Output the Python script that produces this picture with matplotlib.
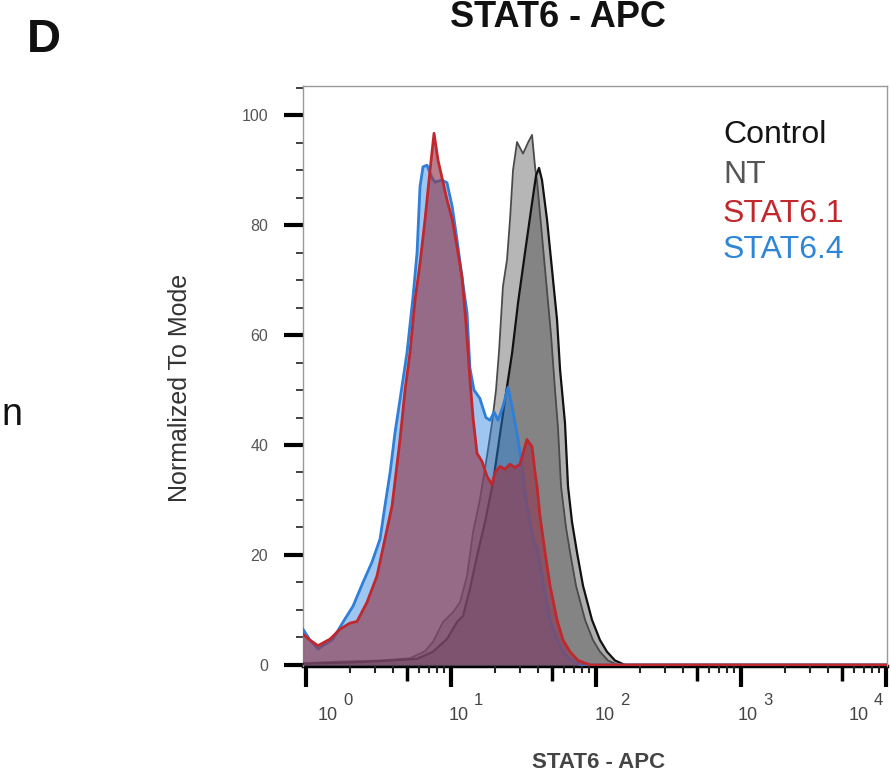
import numpy as np
import matplotlib
matplotlib.use("Agg")
import matplotlib.pyplot as plt
from matplotlib.ticker import FixedLocator, NullLocator, LogLocator, NullFormatter
from matplotlib.transforms import offset_copy

plt.rcParams['font.family'] = ['Liberation Sans', 'DejaVu Sans']

# ---------------- data (intensity, % of mode) ----------------
stat61_x = [0.953, 1.066, 1.21, 1.464, 1.716, 2.011, 2.247, 2.634, 3.088, 3.50,
            3.919, 4.45, 4.818, 5.215, 5.646, 6.11, 6.617, 7.166, 7.635, 8.135,
            8.67, 9.38, 10.2, 11.0, 11.9, 12.69, 13.5, 14.18, 15.11, 16.36,
            17.71, 19.18, 20.11, 21.77, 23.57, 25.52, 27.63, 29.92, 33.4, 36.2,
            37.97, 39.19, 41.1, 44.5, 48.2, 53.83, 59.2, 66.2, 75.1, 90.9, 10200]
stat61_y = [5.6, 4.5, 3.5, 4.7, 6.5, 7.6, 7.9, 11.4, 16.2, 22.9,
            28.9, 41.0, 50.0, 56.8, 66.4, 73.0, 81.0, 90.0, 96.7, 91.8,
            88.6, 84.6, 81.0, 76.0, 70.6, 62.0, 52.0, 45.0, 38.5, 37.0,
            34.3, 32.8, 35.0, 36.1, 35.6, 36.5, 35.9, 36.5, 41.0, 39.7,
            35.0, 32.5, 27.0, 20.5, 14.4, 8.2, 4.5, 2.4, 0.8, 0.0, 0.0]

stat64_x = [0.953, 1.066, 1.21, 1.535, 1.80, 2.11, 2.47, 2.85, 3.24, 3.50,
            3.80, 4.11, 4.45, 4.97, 5.47, 5.83, 6.11, 6.41, 6.83, 7.39,
            7.76, 8.67, 9.38, 10.2, 11.0, 11.9, 12.9, 13.5, 14.4, 15.8,
            17.4, 18.6, 19.8, 21.1, 22.8, 24.7, 26.4, 29.0, 30.9, 33.4,
            36.8, 39.81, 43.8, 48.2, 53.0, 59.2, 66.2, 77.6, 10200]
stat64_y = [6.5, 4.5, 2.9, 4.7, 7.8, 10.7, 15.0, 18.7, 22.9, 28.9,
            35.0, 42.3, 48.3, 56.8, 67.0, 75.0, 87.0, 90.6, 90.9, 88.6,
            87.8, 88.2, 87.7, 83.3, 77.3, 70.6, 64.0, 54.0, 50.0, 48.5,
            45.0, 44.5, 46.0, 44.5, 47.0, 50.5, 47.0, 41.0, 36.0, 29.0,
            23.0, 20.5, 14.0, 8.2, 5.0, 2.4, 1.0, 0.0, 0.0]

nt_x = [0.953, 1.716, 3.24, 5.215, 6.617, 7.514, 8.806, 10.32, 11.54, 12.9,
        14.18, 15.8, 17.71, 19.18, 20.43, 21.43, 22.8, 24.33, 25.52, 26.77,
        28.52, 31.37, 33.96, 36.2, 37.97, 39.19, 41.75, 45.2, 48.95, 52.15,
        54.7, 57.35, 62.1, 66.2, 72.8, 84.0, 95.35, 106.6, 121, 141.8, 10200]
nt_y = [0.3, 0.6, 0.8, 1.2, 2.5, 4.2, 7.8, 9.6, 11.4, 16.2,
        24.1, 30.0, 38.0, 44.0, 50.0, 57.0, 68.8, 73.7, 81.0, 90.0,
        95.1, 93.0, 95.0, 96.4, 90.6, 88.0, 80.0, 70.0, 60.0, 50.0,
        43.0, 32.5, 25.0, 20.5, 14.4, 8.2, 4.5, 2.4, 0.8, 0.0, 0.0]

control_x = [0.953, 2.357, 3.80, 5.83, 7.514, 9.38, 11.0, 12.1, 13.5, 15.11,
             17.16, 19.49, 21.77, 24.33, 26.4, 29.0, 32.38, 36.2, 38.58, 40.45,
             42.4, 45.93, 49.73, 53.83, 56.5, 61.1, 64.1, 68.3, 73.9, 81.35,
             93.8, 106.6, 119, 135.2, 158.5, 10200]
control_y = [0.2, 0.5, 0.8, 1.1, 2.4, 4.7, 7.8, 8.9, 13.8, 19.8,
             26.0, 33.2, 42.0, 50.6, 56.8, 65.9, 75.0, 84.0, 89.0, 90.4,
             88.2, 81.0, 71.9, 62.8, 53.7, 44.0, 32.5, 26.0, 20.5, 14.4,
             8.2, 4.5, 2.4, 0.8, 0.0, 0.0]

legend_labels = ["Control", "NT", "STAT6.1", "STAT6.4"]
legend_colors = ["#141414", "#555555", "#c0282d", "#2f86d6"]
y_ticks = [0, 20, 40, 60, 80, 100]
x_decades = [0, 1, 2, 3, 4]

# ---------------- figure ----------------
W, H = 891, 777
fig = plt.figure(figsize=(W / 100, H / 100), dpi=100)
ax = fig.add_axes([303 / W, 1 - 666 / H, (887 - 303) / W, (666 - 86) / H])
ax.set_xscale('log')
ax.set_xlim(0.953, 10160)
ax.set_ylim(-0.2, 105.3)

# grey histograms
ax.fill_between(nt_x, 0, nt_y, color='#9a9a9a', alpha=0.72, lw=0, zorder=1)
ax.fill_between(control_x, 0, control_y, color='#444444', alpha=0.43, lw=0, zorder=2)
ax.plot(nt_x, nt_y, color='#4a4a4a', lw=1.3, zorder=3)
ax.plot(control_x, control_y, color='#111111', lw=1.6, zorder=3)
# blue
ax.fill_between(stat64_x, 0, stat64_y, color=(40 / 255, 130 / 255, 225 / 255), alpha=0.45, lw=0, zorder=4)
ax.plot(stat64_x, stat64_y, color='#2f7fd8', lw=2.0, zorder=5)
# red
ax.fill_between(stat61_x, 0, stat61_y, color=(145 / 255, 58 / 255, 80 / 255), alpha=0.65, lw=0, zorder=6)
ax.plot(stat61_x, stat61_y, color='#c0282d', lw=2.0, zorder=7)

# spines
for s in ['top', 'right', 'left']:
    ax.spines[s].set_color('#999999')
    ax.spines[s].set_linewidth(1.0)
ax.spines['bottom'].set_color('black')
ax.spines['bottom'].set_linewidth(2.5)
ax.spines['bottom'].set_zorder(0)

# y ticks
ax.yaxis.set_major_locator(FixedLocator(y_ticks))
ax.yaxis.set_minor_locator(FixedLocator(list(range(0, 106, 5))))
ax.tick_params(axis='y', which='major', length=14, width=3, color='black',
               labelsize=11.5, labelcolor='#555555', pad=11)
ax.tick_params(axis='y', which='minor', length=5, width=1.3, color='#333333')
ax.tick_params(axis='y', right=False, which='both')

# x ticks
ax.xaxis.set_major_locator(FixedLocator([10 ** d for d in x_decades]))
ax.xaxis.set_minor_locator(LogLocator(base=10, subs=(2, 3, 4, 6, 7, 8, 9), numticks=20))
ax.xaxis.set_minor_formatter(NullFormatter())
ax.tick_params(axis='x', which='major', length=15, width=3, color='black', labelbottom=False)
ax.tick_params(axis='x', which='minor', length=5, width=1.5, color='#222222')
ax.tick_params(axis='x', top=False, which='both')

sec = ax.secondary_xaxis('bottom')
sec.spines['bottom'].set_visible(False)
sec.xaxis.set_major_locator(FixedLocator([5 * 10 ** d for d in x_decades[:-1]]))
sec.xaxis.set_minor_locator(NullLocator())
sec.tick_params(axis='x', which='major', length=11, width=2.5, color='black', labelbottom=False)

# x tick labels "10 ^ n"
label_dx = [12, -2, -1, -3, -37]
base_tr = ax.get_xaxis_transform()
for d, dx in zip(x_decades, label_dx):
    t1 = offset_copy(base_tr, fig=fig, x=dx, y=-54, units='dots')
    ax.text(10 ** d, 0, "10", transform=t1, fontsize=13, color='#444444', ha='left', va='baseline')
    t2 = offset_copy(base_tr, fig=fig, x=dx + 25, y=-39, units='dots')
    ax.text(10 ** d, 0, str(d), transform=t2, fontsize=12, color='#444444', ha='left', va='baseline')

# axis labels
fig.text(599 / W, 1 - 768 / H, "STAT6 - APC", fontsize=16, fontweight='bold', color='#444444',
         ha='center', va='baseline')
fig.text(180 / W, 1 - 388 / H, "Normalized To Mode", fontsize=18, color='#333333',
         rotation=90, ha='center', va='center')

# title and panel letter
fig.text(558 / W, 1 - 27 / H, "STAT6 - APC", fontsize=26, fontweight='bold', color='#111111',
         ha='center', va='baseline')
fig.text(27 / W, 1 - 52 / H, "D", fontsize=34, fontweight='bold', color='#111111',
         ha='left', va='baseline')
fig.text(1 / W, 1 - 425 / H, "n", fontsize=27, color='#111111', ha='left', va='baseline')

# legend as coloured text
legend_base = [143, 183, 222, 258]
for lab, col, yb in zip(legend_labels, legend_colors, legend_base):
    fig.text(723 / W, 1 - yb / H, lab, fontsize=23, color=col, ha='left', va='baseline')

fig.savefig("out.png", dpi=100)
